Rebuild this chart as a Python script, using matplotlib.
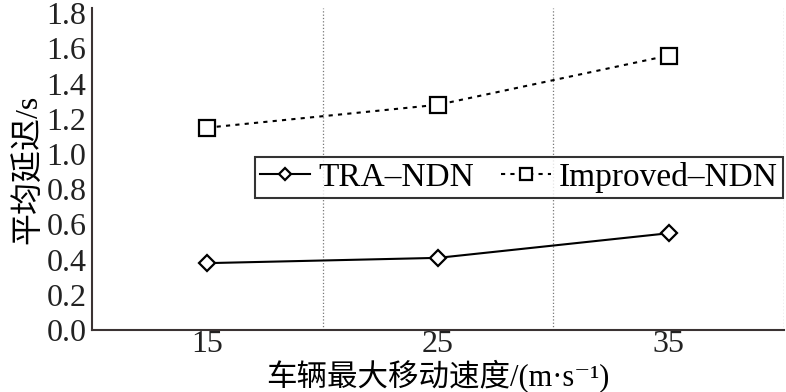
import numpy as np
import matplotlib
matplotlib.use('Agg')
import matplotlib.pyplot as plt
from matplotlib.ticker import FixedLocator

plt.rcParams['font.family'] = ['Liberation Serif', 'Noto Sans CJK SC', 'DejaVu Serif']
plt.rcParams['axes.unicode_minus'] = False

speed = [15, 25, 35]
tra_ndn = [0.38, 0.41, 0.55]
improved_ndn = [1.15, 1.28, 1.56]
y_ticks = np.arange(0, 1.81, 0.2)

fig = plt.figure(figsize=(7.86, 3.92), dpi=100)
ax = fig.add_axes([92 / 786, 1 - 330 / 392, (784 - 92) / 786, (330 - 8) / 392])

ax.plot(speed, tra_ndn, color='black', lw=1.5, marker='D', markersize=8,
        markerfacecolor='white', markeredgecolor='black', markeredgewidth=1.6,
        label='TRA\u2013NDN')
ax.plot(speed, improved_ndn, color='black', lw=1.5, ls=(0, (2, 2.5)), marker='s',
        markersize=11, markerfacecolor='white', markeredgecolor='black',
        markeredgewidth=1.6, label='Improved\u2013NDN')

ax.set_xlim(10, 40)
ax.set_ylim(0, 1.83)
ax.set_xticks(speed)
ax.xaxis.set_minor_locator(FixedLocator([20, 30, 40]))
ax.grid(True, which='minor', axis='x', color='#777777', ls=':', lw=0.9)
ax.set_yticks(y_ticks)
ax.set_yticklabels([f'{v:.1f}' for v in y_ticks])
ax.tick_params(which='both', length=0, labelsize=23, colors='#222222', pad=4)
ax.tick_params(axis='x', pad=0)

for s in ['top', 'right']:
    ax.spines[s].set_visible(False)
for s in ['left', 'bottom']:
    ax.spines[s].set_color('#3b3333')
    ax.spines[s].set_linewidth(1.5)

ax.set_ylabel('平均延迟/s', fontsize=23, labelpad=2)
ax.set_xlabel('车辆最大移动速度/(m\u00b7s\u207b\u00b9)', fontsize=22, labelpad=0)

leg = ax.legend(loc='upper left', bbox_to_anchor=((255 - 92) / 692, (330 - 157) / 322),
                ncol=2, fontsize=24, frameon=True, fancybox=False, handlelength=1.5,
                markerscale=0.75, handletextpad=0.25, columnspacing=0.8,
                borderpad=0.15, borderaxespad=0)
leg.get_frame().set_edgecolor('black')
leg.get_frame().set_linewidth(1.5)

fig.savefig('out.png', dpi=100)
